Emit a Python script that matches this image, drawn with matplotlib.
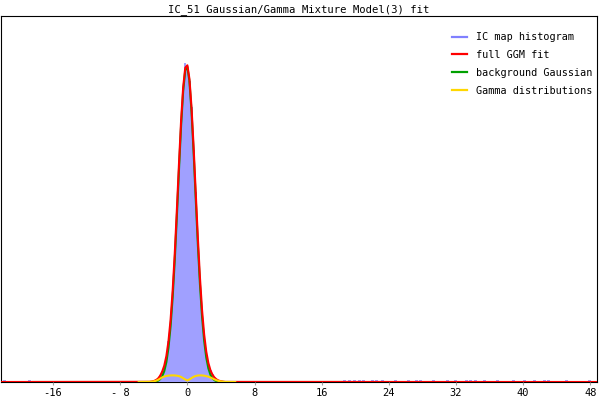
import numpy as np
import matplotlib.pyplot as plt
from matplotlib.lines import Line2D

# Histogram of the IC map (bin centres, bin width 0.25)
hist_x = [-4.5, -4.25, -4.0, -3.75, -3.5, -3.25, -3.0, -2.75, -2.5, -2.25,
          -2.0, -1.75, -1.5, -1.25, -1.0, -0.75, -0.5, -0.25, 0.0, 0.25,
          0.5, 0.75, 1.0, 1.25, 1.5, 1.75, 2.0, 2.25, 2.5, 2.75,
          3.0, 3.25, 3.5, 3.75, 4.0, 4.25, 4.5]
hist_y = [0.0008, 0.0012, 0.0018, 0.0030, 0.0048, 0.0080, 0.0125, 0.0190, 0.0300, 0.0490,
          0.0725, 0.1100, 0.1520, 0.2060, 0.2570, 0.3120, 0.3480, 0.3790, 0.3770, 0.3580,
          0.3270, 0.2760, 0.2260, 0.1690, 0.1250, 0.0840, 0.0575, 0.0350, 0.0230, 0.0140,
          0.0090, 0.0055, 0.0035, 0.0022, 0.0014, 0.0008, 0.0004]
bin_width = 0.25

# Sparse outlier bins far from the peak
tail_x = [-21.8, -18.8, 18.7, 19.3, 19.9, 20.5, 21.0, 22.0, 22.5, 23.3, 24.8, 26.3,
          27.3, 27.8, 29.3, 31.0, 31.9, 33.2, 33.7, 34.3, 35.4, 36.9, 38.8, 40.2,
          41.4, 42.6, 43.0, 45.2, 47.9]
tail_y = [0.0025] * len(tail_x)

# Model curves sampled on the same grid
curve_x = hist_x
gauss_y = [0.0000, 0.0001, 0.0003, 0.0007, 0.0015, 0.0033, 0.0068, 0.0130, 0.0237, 0.0408,
           0.0661, 0.1010, 0.1452, 0.1971, 0.2521, 0.3041, 0.3457, 0.3706, 0.3746, 0.3569,
           0.3206, 0.2716, 0.2168, 0.1632, 0.1159, 0.0775, 0.0489, 0.0291, 0.0163, 0.0086,
           0.0043, 0.0020, 0.0009, 0.0004, 0.0002, 0.0001, 0.0000]
gamma_y = [0.0002, 0.0004, 0.0008, 0.0015, 0.0025, 0.0040, 0.0055, 0.0065, 0.0072, 0.0076,
           0.0078, 0.0079, 0.0078, 0.0075, 0.0070, 0.0060, 0.0045, 0.0030, 0.0018, 0.0030,
           0.0047, 0.0062, 0.0072, 0.0077, 0.0079, 0.0078, 0.0075, 0.0070, 0.0063, 0.0053,
           0.0042, 0.0030, 0.0020, 0.0012, 0.0007, 0.0003, 0.0001]
full_y = [0.0002, 0.0005, 0.0011, 0.0022, 0.0040, 0.0073, 0.0123, 0.0195, 0.0309, 0.0484,
          0.0739, 0.1089, 0.1530, 0.2046, 0.2591, 0.3101, 0.3502, 0.3736, 0.3764, 0.3599,
          0.3253, 0.2778, 0.2240, 0.1709, 0.1238, 0.0853, 0.0564, 0.0361, 0.0226, 0.0139,
          0.0085, 0.0050, 0.0029, 0.0016, 0.0009, 0.0004, 0.0001]

# Extents over which each curve is drawn (flat at zero outside the grid)
gauss_ends = (-18.4, 18.4)
gamma_ends = (-5.8, 5.7)
full_ends = (-22.2, 48.8)

ticks = [-16, -8, 0, 8, 16, 24, 32, 40, 48]
tick_labels = ['-16', '- 8', '0', '8', '16', '24', '32', '40', '48']

title = 'IC_51 Gaussian/Gamma Mixture Model(3) fit'

blue_fill = '#a0a0ff'
blue_line = '#8080ff'
red = '#ff0000'
green = '#00a000'
yellow = '#ffd700'

plt.rcParams['font.family'] = ['DejaVu Sans Mono']

fig = plt.figure(figsize=(6, 4), dpi=100)
ax = fig.add_axes([0.0017, 0.045, 0.9933, 0.915])

# histogram as filled steps
edges = np.append(np.array(hist_x) - bin_width / 2, hist_x[-1] + bin_width / 2)
ax.stairs(hist_y, edges, fill=True, color=blue_fill, zorder=1)
ax.bar(tail_x, tail_y, width=0.35, color=blue_fill, linewidth=0, zorder=1)


def with_ends(xs, ys, ends):
    return [ends[0]] + list(xs) + [ends[1]], [0] + list(ys) + [0]


gx, gy = with_ends(curve_x, gauss_y, gauss_ends)
ax.plot(gx, gy, color=green, lw=1.5, zorder=2)
fx, fy = with_ends(curve_x, full_y, full_ends)
ax.plot(fx, fy, color=red, lw=1.5, zorder=3)
yx, yy = with_ends(curve_x, gamma_y, gamma_ends)
ax.plot(yx, yy, color=yellow, lw=1.5, zorder=4)

ax.set_xlim(-22.2, 48.8)
ax.set_ylim(0, 0.435)
ax.set_xticks(ticks)
ax.set_xticklabels(tick_labels, fontsize=7.5)
ax.set_yticks([])
ax.tick_params(axis='x', direction='out', length=1.8, width=0.8, color='#a0a0a0', pad=2.5)
for s in ax.spines.values():
    s.set_linewidth(0.8)
    s.set_zorder(0)

ax.set_title(title, fontsize=7.6, pad=3)

handles = [Line2D([], [], color=blue_line, lw=1.6),
           Line2D([], [], color=red, lw=1.6),
           Line2D([], [], color=green, lw=1.6),
           Line2D([], [], color=yellow, lw=1.6)]
labels = ['IC map histogram', 'full GGM fit', 'background Gaussian', 'Gamma distributions']
ax.legend(handles, labels, loc='upper right', bbox_to_anchor=(597 / 600, 1 - 27 / 400),
          bbox_transform=fig.transFigure, frameon=False, fontsize=7.3, borderpad=0,
          handlelength=1.5, handletextpad=0.8, labelspacing=0.78)

fig.savefig('out.png', dpi=100)
